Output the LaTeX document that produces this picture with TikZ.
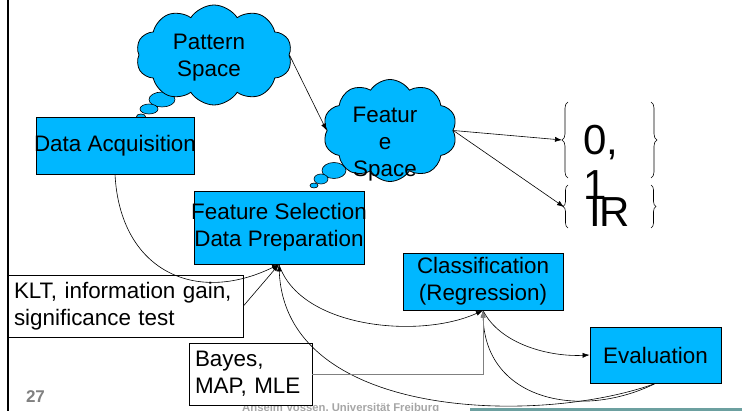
\documentclass[tikz,border=0pt]{standalone}
\usepackage{fontspec}
\setmainfont{Liberation Sans}
\usepackage{tikz}
\usetikzlibrary{arrows.meta, shapes.geometric, shapes.symbols, decorations.pathreplacing}

\definecolor{stagecyan}{RGB}{0,183,255}
\definecolor{footgray}{RGB}{128,128,128}
\definecolor{footlight}{RGB}{166,166,166}
\definecolor{barteal}{RGB}{108,160,160}

\newcommand{\spill}[1]{\makebox[0pt]{#1}}

\tikzset{
  boxfont/.style={font=\fontsize{22.4pt}{27pt}\selectfont},
  stage/.style={boxfont, draw, line width=0.8pt, fill=stagecyan, inner sep=0pt, align=center},
  note/.style={boxfont, draw, line width=0.8pt, fill=white, align=left, inner xsep=6pt, inner ysep=0pt},
  thought/.style={cloud, cloud puffs=10, cloud puff arc=115, cloud ignores aspect, draw, line width=0.8pt, fill=stagecyan, inner sep=0pt},
  bubble/.style={ellipse, draw, line width=0.6pt, fill=stagecyan, inner sep=0pt},
  settext/.style={font=\fontsize{42pt}{45pt}\selectfont, inner sep=0pt, align=left},
  setbrace/.style={line width=0.6pt, decorate},
  link/.style={->, line width=0.6pt},
}

\begin{document}
\begin{tikzpicture}[x=1pt, y=-1pt, >={Latex[length=7pt,width=5pt]}]
    \useasboundingbox (0,0) rectangle (742,411);

    % 1. Slide frame
    \draw[line width=2pt] (8,0) -- (8,411);
    \fill[barteal] (470,408) rectangle (742,411);
    \node[font=\fontsize{11.3pt}{13pt}\selectfont\bfseries, text=footlight, anchor=base west, inner sep=0pt] (footer) at (242,412) {Anselm Vossen, Universität Freiburg};
    \node[font=\fontsize{17pt}{20pt}\selectfont\bfseries, text=footgray, inner sep=0pt] (slideno) at (35.5,397) {27};

    % 2. Thought bubbles and clouds
    \foreach \bx/\by/\bw/\bh [count=\i] in {162/99.5/26/15, 149/109/18/10, 141/116.5/9/5} {
        \node[bubble, minimum width=\bw pt, minimum height=\bh pt] (pb\i) at (\bx,\by) {};
    }
    \foreach \bx/\by/\bw/\bh [count=\i] in {334/170.5/24/16, 321/179/14/10, 314/185.5/8/5} {
        \node[bubble, minimum width=\bw pt, minimum height=\bh pt] (fb\i) at (\bx,\by) {};
    }
    \node[thought, minimum width=156pt, minimum height=100pt] (pattern) at (214,55) {};
    \node[thought, minimum width=134pt, minimum height=102pt] (feature) at (390,130.5) {};
    \node[boxfont, align=center, inner sep=0pt] (patterntxt) at (209,57.5) {Pattern\\Space};
    \node[boxfont, align=center, inner sep=0pt] (featuretxt) at (385,144.5) {Featur\\e\\Space};

    % 3. Stages
    \node[stage, minimum width=158pt, minimum height=57pt] (acq) at (115,145.5) {\spill{Data Acquisition}};
    \node[stage, minimum width=170pt, minimum height=73pt] (featsel) at (279,227.5) {\spill{Feature Selection}\\\spill{Data Preparation}};
    \node[stage, minimum width=160pt, minimum height=57pt] (classif) at (483,281.5) {Classification\\(Regression)};
    \node[stage, minimum width=131pt, minimum height=56pt] (eval) at (655.5,355) {Evaluation};
    \node[note, text width=223pt, minimum height=62pt] (klt) at (125.5,306) {KLT, information gain,\\significance test};
    \node[note, text width=111pt, minimum height=62pt] (bayes) at (250.5,374) {Bayes,\\MAP, MLE};

    % 4. Output sets
    \node[settext, anchor=west] (binset) at (583,162.5) {0,\\1};
    \node[settext] (reals) at (610,212) {I\kern-0.04em R};
    \draw[setbrace, decoration={brace, amplitude=6pt}] (568,178) -- (568,102);
    \draw[setbrace, decoration={brace, amplitude=6pt}] (651,102) -- (651,178);
    \draw[setbrace, decoration={brace, amplitude=5pt}] (568,228) -- (568,185);
    \draw[setbrace, decoration={brace, amplitude=5pt}] (651,185) -- (651,228);
    \coordinate (bintip) at (562,140);
    \coordinate (realtip) at (564,207);

    % 5. Connectors
    \draw[link] (pattern.east) -- (feature.west);
    \draw[link] (feature.east) -- (bintip);
    \draw[link] (feature.east) -- (realtip);
    \draw[link] (acq.south) .. controls +(5,96) and +(-84,41) .. (featsel.south);
    \draw[link] (klt.east) -- (featsel.south);
    \draw[link] (featsel.south) .. controls +(21,64) and +(-63,29) .. (classif.south);
    \draw[link] (eval.south) .. controls +(-115,42) and +(6,156) .. (featsel.south);
    \draw[link] (eval.south) .. controls +(-75,37) and +(2,90) .. (classif.south);
    \draw[link] (classif.south) .. controls +(17,34) and +(-40,2) .. (eval.west);
    \draw[link, draw=gray] (bayes.east) -| (classif.south);
\end{tikzpicture}
\end{document}
